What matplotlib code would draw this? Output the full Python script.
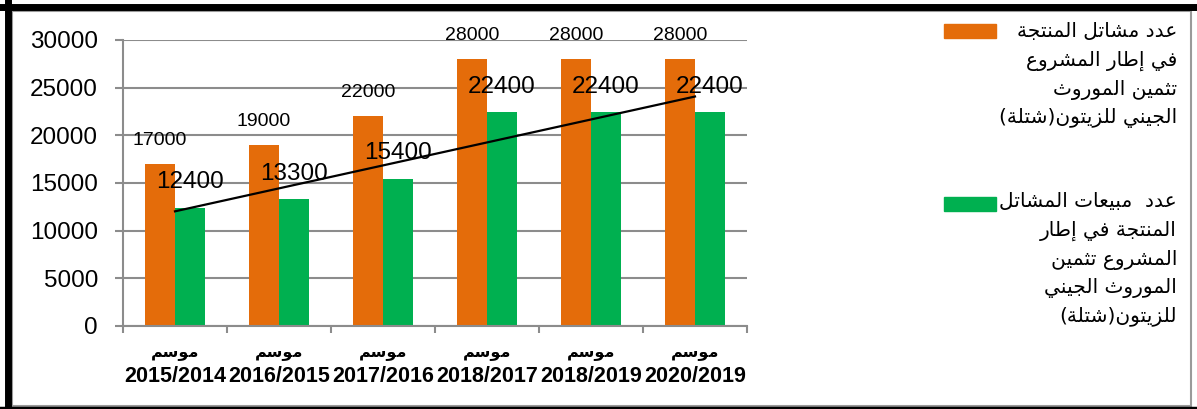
import matplotlib
matplotlib.use("Agg")
import matplotlib.pyplot as plt
import matplotlib.transforms as mtransforms
import numpy as np
from matplotlib.patches import Rectangle
from matplotlib.lines import Line2D

plt.rcParams['font.family'] = ['Liberation Sans', 'DejaVu Sans']

# data
seasons = ['2015/2014', '2016/2015', '2017/2016', '2018/2017', '2018/2019', '2020/2019']
season_word = 'موسم'
produced = [17000, 19000, 22000, 28000, 28000, 28000]
sold = [12400, 13300, 15400, 22400, 22400, 22400]
legend_produced = ['عدد مشاتل المنتجة', 'في إطار المشروع', 'تثمين الموروث', 'الجيني للزيتون(شتلة)']
legend_sold = ['عدد  مبيعات المشاتل', 'المنتجة في إطار', 'المشروع تثمين', 'الموروث الجيني', 'للزيتون(شتلة)']

c_orange = '#E46C0A'
c_green = '#00B050'
c_grid = '#8C8C8C'

# arabic shaping: (isolated, final, initial, medial)
forms = {
    '\u0627': ('\uFE8D', '\uFE8E', None, None),
    '\u0625': ('\uFE87', '\uFE88', None, None),
    '\u0628': ('\uFE8F', '\uFE90', '\uFE91', '\uFE92'),
    '\u0629': ('\uFE93', '\uFE94', None, None),
    '\u062A': ('\uFE95', '\uFE96', '\uFE97', '\uFE98'),
    '\u062B': ('\uFE99', '\uFE9A', '\uFE9B', '\uFE9C'),
    '\u062C': ('\uFE9D', '\uFE9E', '\uFE9F', '\uFEA0'),
    '\u062F': ('\uFEA9', '\uFEAA', None, None),
    '\u0631': ('\uFEAD', '\uFEAE', None, None),
    '\u0632': ('\uFEAF', '\uFEB0', None, None),
    '\u0633': ('\uFEB1', '\uFEB2', '\uFEB3', '\uFEB4'),
    '\u0634': ('\uFEB5', '\uFEB6', '\uFEB7', '\uFEB8'),
    '\u0637': ('\uFEC1', '\uFEC2', '\uFEC3', '\uFEC4'),
    '\u0639': ('\uFEC9', '\uFECA', '\uFECB', '\uFECC'),
    '\u0641': ('\uFED1', '\uFED2', '\uFED3', '\uFED4'),
    '\u0644': ('\uFEDD', '\uFEDE', '\uFEDF', '\uFEE0'),
    '\u0645': ('\uFEE1', '\uFEE2', '\uFEE3', '\uFEE4'),
    '\u0646': ('\uFEE5', '\uFEE6', '\uFEE7', '\uFEE8'),
    '\u0648': ('\uFEED', '\uFEEE', None, None),
    '\u064A': ('\uFEF1', '\uFEF2', '\uFEF3', '\uFEF4'),
}
lam_alef = {'\u0627': ('\uFEFB', '\uFEFC'), '\u0625': ('\uFEF9', '\uFEFA')}


def joins_forward(ch):
    return ch in forms and forms[ch][2] is not None


def shape(s):
    out = []
    i = 0
    while i < len(s):
        ch = s[i]
        prev = s[i - 1] if i > 0 else ''
        nxt = s[i + 1] if i + 1 < len(s) else ''
        if ch not in forms:
            out.append(ch)
            i += 1
            continue
        cp = joins_forward(prev)
        if ch == '\u0644' and nxt in lam_alef:
            out.append(lam_alef[nxt][1 if cp else 0])
            i += 2
            continue
        cn = joins_forward(ch) and nxt in forms
        f = forms[ch]
        if cp and cn:
            out.append(f[3])
        elif cp:
            out.append(f[1])
        elif cn:
            out.append(f[2])
        else:
            out.append(f[0])
        i += 1
    vis = ''.join(out)[::-1]
    return vis.translate(str.maketrans('()', ')('))


W, H = 1197, 409
fig = plt.figure(figsize=(W / 100, H / 100), dpi=100)


def fx(x):
    return x / W


def fy(y):
    return 1 - y / H


ax = fig.add_axes([fx(123), fy(326), fx(747 - 123), (326 - 40) / H])

x = np.arange(len(seasons))
bw = 0.29
ax.bar(x - bw / 2, produced, bw, color=c_orange, zorder=2)
ax.bar(x + bw / 2, sold, bw, color=c_green, zorder=2)

# linear trend of sales
k, b = np.polyfit(x, sold, 1)
ax.plot(x, k * x + b, color='black', lw=1.6, zorder=3)

for xi, v in zip(x, produced):
    ax.annotate(str(v), (xi - bw / 2, v), xytext=(0, 17), textcoords='offset points',
                ha='center', va='center', fontsize=14)
for xi, v in zip(x, sold):
    ax.annotate(str(v), (xi + bw / 2, v), xytext=(0, 18.5), textcoords='offset points',
                ha='center', va='center', fontsize=17.5, zorder=4)

ax.set_xlim(-0.5, len(seasons) - 0.5)
ax.set_ylim(0, 30000)
ax.set_yticks(np.arange(0, 30001, 5000))
ax.tick_params(axis='y', length=6, width=1.5, color=c_grid, pad=12, labelsize=17.5)
ax.set_xticks(np.arange(-0.5, len(seasons), 1))
ax.set_xticklabels([])
ax.tick_params(axis='x', length=5, width=1.5, color=c_grid)
ax.grid(axis='y', color=c_grid, lw=1.5, zorder=0)
for side in ['top', 'right']:
    ax.spines[side].set_visible(False)
for side in ['left', 'bottom']:
    ax.spines[side].set_color(c_grid)
    ax.spines[side].set_linewidth(1.5)

# category labels under the axis
trans = mtransforms.blended_transform_factory(ax.transData, fig.transFigure)
for xi, s in zip(x, seasons):
    ax.text(xi, fy(353), shape(season_word), transform=trans,
            ha='center', va='center', fontsize=11.5, fontweight='bold', family='DejaVu Sans')
    ax.text(xi, fy(377), s, transform=trans,
            ha='center', va='center', fontsize=15.5, fontweight='bold')

# legend
fig.patches.append(Rectangle((fx(944), fy(38)), fx(52), 14 / H, color=c_orange, transform=fig.transFigure))
fig.patches.append(Rectangle((fx(944), fy(211)), fx(52), 14 / H, color=c_green, transform=fig.transFigure))
for yy, line in zip([31, 61, 90, 118], legend_produced):
    fig.text(fx(1177), fy(yy), shape(line), ha='right', va='center', fontsize=14.5, family='DejaVu Sans')
for yy, line in zip([201, 231, 260, 288, 316], legend_sold):
    fig.text(fx(1177), fy(yy), shape(line), ha='right', va='center', fontsize=14.5, family='DejaVu Sans')

# frame
fig.patches.append(Rectangle((fx(11.5), fy(405.5)), fx(1191 - 11.5), (405.5 - 10.5) / H, fill=False,
                             ec='#9A9A9A', lw=1.5, transform=fig.transFigure))
fig.lines.append(Line2D([0, 1], [fy(6.5), fy(6.5)], color='black', lw=5, transform=fig.transFigure))
fig.lines.append(Line2D([fx(7.5), fx(7.5)], [0, 1], color='black', lw=5, transform=fig.transFigure))
fig.lines.append(Line2D([0, 1], [fy(408), fy(408)], color='black', lw=2.5, transform=fig.transFigure))

fig.savefig('out.png', dpi=100)
